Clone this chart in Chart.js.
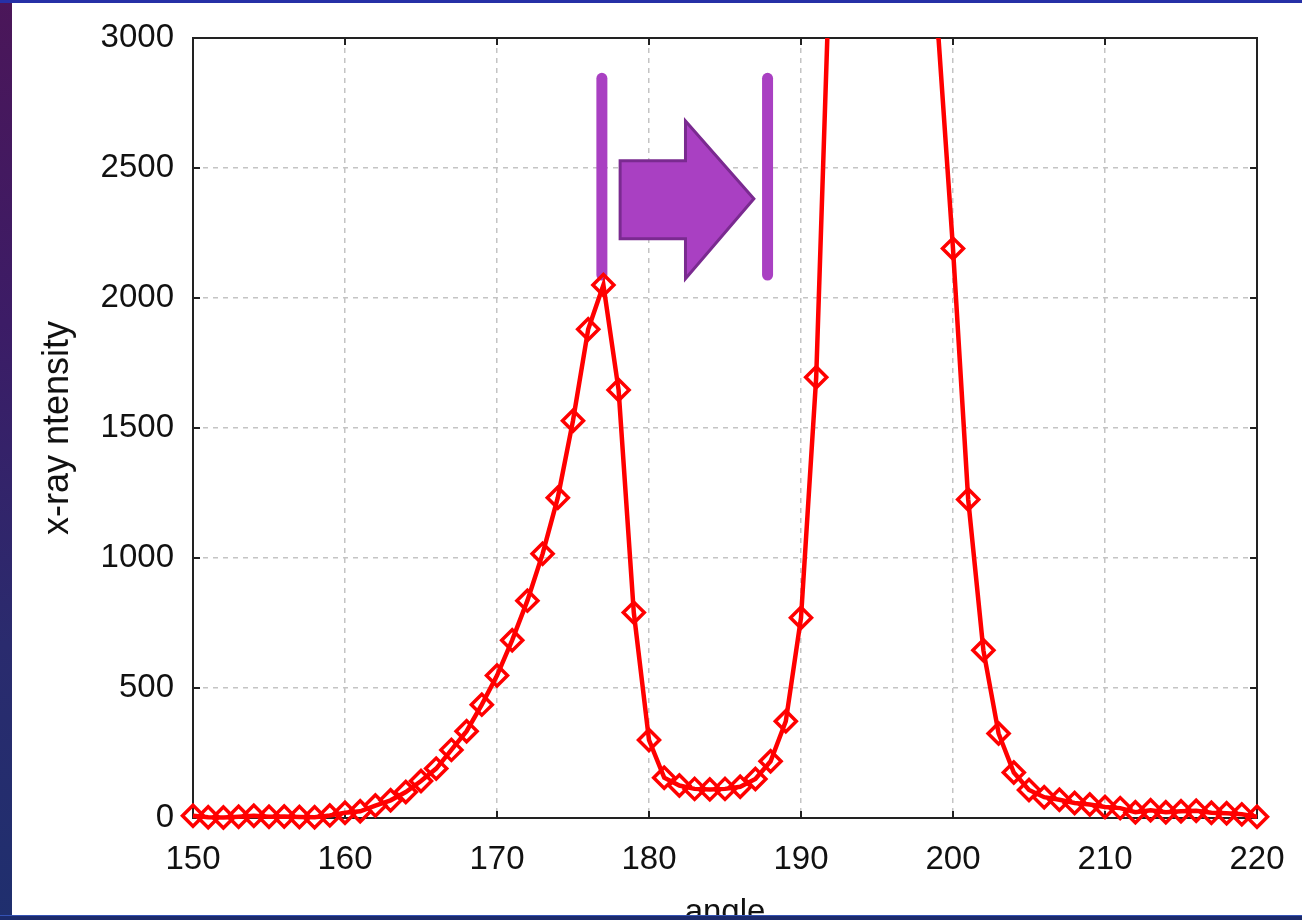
<!DOCTYPE html>
<html>
<head>
<meta charset="utf-8">
<script src="https://cdn.jsdelivr.net/npm/chart.js@4"></script>
<style>
  html, body { margin: 0; padding: 0; width: 1302px; height: 920px; overflow: hidden; }
  body {
    position: relative;
    background: linear-gradient(180deg, #4b1659 0%, #3c1c66 35%, #2a2b6e 70%, #1f2f6e 100%);
  }
  #topline { position: absolute; left: 0; top: 0; width: 1302px; height: 3px; background: #2630a6; }
  #panel { position: absolute; left: 12px; top: 3px; width: 1290px; height: 912px; background: #ffffff; overflow: hidden; }
  #wrap { position: absolute; left: -12px; top: -3px; width: 1302px; height: 960px; }
  #band { position: absolute; left: 0; top: 915px; width: 1302px; height: 5px; background: #1c2b6c; border-top: 1px solid #3452b4; }
</style>
</head>
<body>
<div id="topline"></div>
<div id="panel"><div id="wrap"><canvas id="c" width="1302" height="960"></canvas></div></div>
<div id="band"></div>
<script>
// Scan angle (degrees)
const angles = [
  150, 151, 152, 153, 154, 155, 156, 157, 158, 159,
  160, 161, 162, 163, 164, 165, 166, 167, 168, 169,
  170, 171, 172, 173, 174, 175, 176, 177, 178, 179,
  180, 181, 182, 183, 184, 185, 186, 187, 188, 189,
  190, 191, 192, 193, 194, 195, 196, 197, 198, 199,
  200, 201, 202, 203, 204, 205, 206, 207, 208, 209,
  210, 211, 212, 213, 214, 215, 216, 217, 218, 219,
  220
];

// Measured x-ray intensity (counts) at each angle
const intensity = [
  9, 3, 2, 5, 9, 5, 6, 4, 3, 10,
  20, 26, 48, 68, 100, 142, 190, 262, 334, 436,
  548, 684, 836, 1016, 1232, 1528, 1880, 2050, 1646, 790,
  300, 155, 125, 112, 110, 112, 120, 150, 218, 372,
  770, 1695, 3480, 5600, 7800, 8900, 8600, 7000, 4900, 3040,
  2190, 1225, 645, 325, 175, 108, 80, 70, 58, 52,
  42, 38, 22, 30, 22, 26, 28, 20, 18, 14,
  5
];

// Axis tick values
const xTickValues = [150, 160, 170, 180, 190, 200, 210, 220];
const yTickValues = [0, 500, 1000, 1500, 2000, 2500, 3000];

// Peak-shift callout, in data units (angle, intensity)
const shiftBars = [
  { angle: 176.9, from: 2088, to: 2845 },
  { angle: 187.8, from: 2088, to: 2845 }
];
const shiftArrow = {
  tail: 178.1, neck: 182.4, tip: 186.9,
  bodyTop: 2528, bodyBottom: 2228,
  headTop: 2681, headBottom: 2074, tipY: 2382
};

const FONT = "'Liberation Sans', Arial, sans-serif";

// Draws the shift callout and the boxed frame with inward tick marks
const overlay = {
  id: 'overlay',
  beforeDatasetsDraw(chart) {
    const ctx = chart.ctx;
    const xs = chart.scales.x, ys = chart.scales.y;
    const ca = chart.chartArea;

    // vertical markers
    ctx.save();
    ctx.strokeStyle = '#a940c2';
    ctx.lineWidth = 11;
    ctx.lineCap = 'round';
    shiftBars.forEach(b => {
      const px = xs.getPixelForValue(b.angle);
      ctx.beginPath();
      ctx.moveTo(px, ys.getPixelForValue(b.to));
      ctx.lineTo(px, ys.getPixelForValue(b.from));
      ctx.stroke();
    });
    ctx.restore();

    // block arrow
    const a = shiftArrow;
    ctx.save();
    ctx.beginPath();
    ctx.moveTo(xs.getPixelForValue(a.tail), ys.getPixelForValue(a.bodyTop));
    ctx.lineTo(xs.getPixelForValue(a.neck), ys.getPixelForValue(a.bodyTop));
    ctx.lineTo(xs.getPixelForValue(a.neck), ys.getPixelForValue(a.headTop));
    ctx.lineTo(xs.getPixelForValue(a.tip), ys.getPixelForValue(a.tipY));
    ctx.lineTo(xs.getPixelForValue(a.neck), ys.getPixelForValue(a.headBottom));
    ctx.lineTo(xs.getPixelForValue(a.neck), ys.getPixelForValue(a.bodyBottom));
    ctx.lineTo(xs.getPixelForValue(a.tail), ys.getPixelForValue(a.bodyBottom));
    ctx.closePath();
    ctx.fillStyle = '#a940c2';
    ctx.fill();
    ctx.lineWidth = 3;
    ctx.lineJoin = 'miter';
    ctx.strokeStyle = '#7a2a90';
    ctx.stroke();
    ctx.restore();

    // frame
    ctx.save();
    ctx.strokeStyle = '#222222';
    ctx.lineWidth = 2;
    ctx.strokeRect(ca.left, ca.top, ca.right - ca.left, ca.bottom - ca.top);
    const tl = 7;
    ctx.beginPath();
    xs.ticks.forEach(t => {
      const px = xs.getPixelForValue(t.value);
      ctx.moveTo(px, ca.bottom); ctx.lineTo(px, ca.bottom - tl);
      ctx.moveTo(px, ca.top); ctx.lineTo(px, ca.top + tl);
    });
    ys.ticks.forEach(t => {
      const py = ys.getPixelForValue(t.value);
      ctx.moveTo(ca.left, py); ctx.lineTo(ca.left + tl, py);
      ctx.moveTo(ca.right, py); ctx.lineTo(ca.right - tl, py);
    });
    ctx.stroke();
    ctx.restore();
  }
};

new Chart(document.getElementById('c'), {
  type: 'line',
  data: {
    datasets: [{
      data: angles.map((a, i) => ({ x: a, y: intensity[i] })),
      borderColor: '#ff0000',
      borderWidth: 4.5,
      tension: 0,
      pointStyle: 'rectRot',
      pointRadius: 10.5,
      pointBorderWidth: 3.5,
      pointBorderColor: '#ff0000',
      pointBackgroundColor: 'rgba(0,0,0,0)',
      clip: { left: false, right: false, top: 0, bottom: false }
    }]
  },
  options: {
    responsive: false,
    animation: false,
    devicePixelRatio: 1,
    layout: { padding: { left: 0, right: 0, top: 38, bottom: 0 } },
    plugins: { legend: { display: false }, tooltip: { enabled: false } },
    scales: {
      x: {
        type: 'linear',
        min: 150, max: 220,
        afterBuildTicks: s => { s.ticks = xTickValues.map(v => ({ value: v })); },
        afterFit: s => { s.height = 142; s.paddingRight = 45; s.paddingLeft = 0; },
        grid: { color: '#c4c4c4', lineWidth: 1.5, drawTicks: false },
        border: { display: false, dash: [5, 5] },
        ticks: {
          color: '#111', font: { family: FONT, size: 33 }, padding: 22, maxRotation: 0,
          callback: v => String(v)
        },
        title: {
          display: true, text: 'angle', color: '#111',
          font: { family: FONT, size: 33 }, padding: { top: 0, bottom: 27 }
        }
      },
      y: {
        type: 'linear',
        min: 0, max: 3000,
        afterBuildTicks: s => { s.ticks = yTickValues.map(v => ({ value: v })); },
        afterFit: s => { s.width = 193; s.paddingTop = 0; s.paddingBottom = 0; },
        grid: { color: '#c4c4c4', lineWidth: 1.5, drawTicks: false },
        border: { display: false, dash: [5, 5] },
        ticks: {
          color: '#111', font: { family: FONT, size: 33 }, padding: 19,
          callback: v => String(v)
        },
        title: {
          display: true, text: 'x-ray ntensity', color: '#111',
          font: { family: FONT, size: 36 }, padding: { top: 36, bottom: 0 }
        }
      }
    }
  },
  plugins: [overlay]
});
</script>
</body>
</html>
